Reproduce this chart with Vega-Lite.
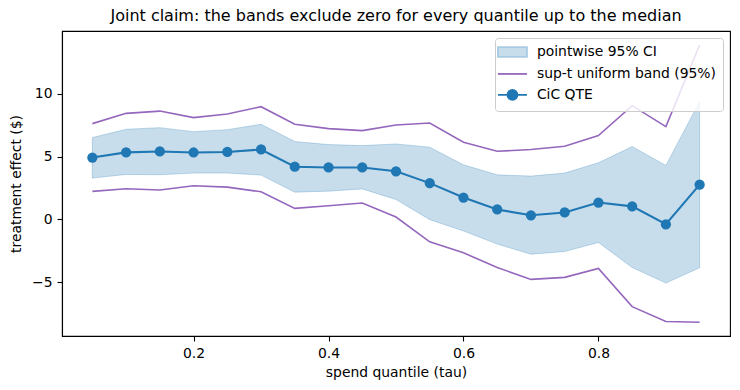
{
  "$schema": "https://vega.github.io/schema/vega-lite/v6.json",
  "width": 668,
  "height": 305,
  "autosize": {"type": "none"},
  "padding": {"left": 62, "top": 31, "right": 10, "bottom": 54},
  "title": {
    "text": "Joint claim: the bands exclude zero for every quantile up to the median",
    "fontSize": 16,
    "fontWeight": "normal",
    "font": "DejaVu Sans",
    "color": "black",
    "offset": 7
  },
  "config": {
    "font": "DejaVu Sans",
    "view": {"stroke": "black", "strokeWidth": 1.1},
    "axis": {
      "grid": false,
      "domainColor": "black",
      "domainWidth": 1.1,
      "tickColor": "black",
      "tickWidth": 1.1,
      "tickSize": 5,
      "labelColor": "black",
      "labelFontSize": 13.9,
      "labelPadding": 5,
      "titleColor": "black",
      "titleFontSize": 13.9,
      "titleFontWeight": "normal"
    },
    "legend": {
      "title": null,
      "orient": "top-right",
      "offset": 7,
      "padding": 7,
      "rowPadding": 5,
      "strokeColor": "#cccccc",
      "fillColor": "rgba(255,255,255,0.8)",
      "cornerRadius": 3,
      "symbolSize": 100,
      "symbolStrokeWidth": 1.8,
      "symbolOpacity": 1,
      "labelFontSize": 13.9,
      "labelColor": "black",
      "labelLimit": 400,
      "labelOffset": 21
    }
  },
  "data": {
    "values": [
      {"tau": 0.05, "qte": 4.92, "ci_lo": 3.28, "ci_hi": 6.51, "ut_lo": 2.22, "ut_hi": 7.62},
      {"tau": 0.10, "qte": 5.33, "ci_lo": 3.57, "ci_hi": 7.17, "ut_lo": 2.43, "ut_hi": 8.44},
      {"tau": 0.15, "qte": 5.40, "ci_lo": 3.55, "ci_hi": 7.30, "ut_lo": 2.33, "ut_hi": 8.62},
      {"tau": 0.20, "qte": 5.32, "ci_lo": 3.68, "ci_hi": 6.98, "ut_lo": 2.67, "ut_hi": 8.10},
      {"tau": 0.25, "qte": 5.36, "ci_lo": 3.68, "ci_hi": 7.14, "ut_lo": 2.56, "ut_hi": 8.39},
      {"tau": 0.30, "qte": 5.56, "ci_lo": 3.52, "ci_hi": 7.57, "ut_lo": 2.19, "ut_hi": 8.97},
      {"tau": 0.35, "qte": 4.19, "ci_lo": 2.16, "ci_hi": 6.19, "ut_lo": 0.87, "ut_hi": 7.57},
      {"tau": 0.40, "qte": 4.13, "ci_lo": 2.24, "ci_hi": 5.95, "ut_lo": 1.08, "ut_hi": 7.22},
      {"tau": 0.45, "qte": 4.13, "ci_lo": 2.42, "ci_hi": 5.87, "ut_lo": 1.30, "ut_hi": 7.06},
      {"tau": 0.50, "qte": 3.82, "ci_lo": 1.58, "ci_hi": 6.00, "ut_lo": 0.18, "ut_hi": 7.51},
      {"tau": 0.55, "qte": 2.88, "ci_lo": -0.03, "ci_hi": 5.74, "ut_lo": -1.80, "ut_hi": 7.67},
      {"tau": 0.60, "qte": 1.73, "ci_lo": -0.93, "ci_hi": 4.34, "ut_lo": -2.67, "ut_hi": 6.14},
      {"tau": 0.65, "qte": 0.78, "ci_lo": -1.98, "ci_hi": 3.54, "ut_lo": -3.84, "ut_hi": 5.42},
      {"tau": 0.70, "qte": 0.32, "ci_lo": -2.78, "ci_hi": 3.44, "ut_lo": -4.79, "ut_hi": 5.56},
      {"tau": 0.75, "qte": 0.54, "ci_lo": -2.57, "ci_hi": 3.68, "ut_lo": -4.63, "ut_hi": 5.82},
      {"tau": 0.80, "qte": 1.33, "ci_lo": -1.85, "ci_hi": 4.50, "ut_lo": -3.92, "ut_hi": 6.67},
      {"tau": 0.85, "qte": 1.03, "ci_lo": -3.84, "ci_hi": 5.79, "ut_lo": -6.96, "ut_hi": 9.05},
      {"tau": 0.90, "qte": -0.40, "ci_lo": -5.08, "ci_hi": 4.29, "ut_lo": -8.15, "ut_hi": 7.38},
      {"tau": 0.95, "qte": 2.76, "ci_lo": -3.86, "ci_hi": 9.39, "ut_lo": -8.20, "ut_hi": 13.89}
    ]
  },
  "encoding": {
    "x": {
      "field": "tau",
      "type": "quantitative",
      "scale": {"domain": [0.005, 0.995], "nice": false, "zero": false},
      "axis": {"values": [0.2, 0.4, 0.6, 0.8], "format": ".1f", "title": "spend quantile (tau)", "titlePadding": 6}
    }
  },
  "layer": [
    {
      "mark": {"type": "area", "color": "#1f77b4", "fillOpacity": 0.25, "stroke": "#1f77b4", "strokeOpacity": 0.25, "strokeWidth": 1},
      "encoding": {
        "y": {
          "field": "ci_lo",
          "type": "quantitative",
          "scale": {"domain": [-9.3, 15.0], "nice": false, "zero": false},
          "axis": {
            "values": [-5, 0, 5, 10],
            "title": "treatment effect ($)",
            "titlePadding": 8,
            "labelExpr": "replace(datum.label, '-', '\u2212')"
          }
        },
        "y2": {"field": "ci_hi"}
      }
    },
    {
      "mark": {"type": "rule", "color": "#808080", "strokeWidth": 1},
      "encoding": {"y": {"datum": 0}}
    },
    {
      "transform": [{"fold": ["ut_lo", "ut_hi"], "as": ["bound", "value"]}],
      "mark": {"type": "line", "strokeWidth": 1.6, "color": "#9467bd"},
      "encoding": {
        "y": {"field": "value", "type": "quantitative"},
        "detail": {"field": "bound"}
      }
    },
    {
      "mark": {"type": "line", "strokeWidth": 2.1, "color": "#1f77b4", "point": {"filled": true, "size": 105, "opacity": 1, "color": "#1f77b4"}},
      "encoding": {
        "y": {"field": "qte", "type": "quantitative"}
      }
    },
    {
      "description": "Key layer: holds no rows, only drives the legend's colours and glyphs.",
      "transform": [{"filter": "false"}],
      "mark": {"type": "point", "filled": true, "opacity": 1},
      "encoding": {
        "y": {"field": "qte", "type": "quantitative"},
        "fill": {
          "datum": "CiC QTE",
          "scale": {
            "domain": ["pointwise 95% CI", "sup-t uniform band (95%)", "CiC QTE"],
            "range": ["#c7ddec", "#9467bd", "#1f77b4"]
          }
        },
        "stroke": {
          "datum": "CiC QTE",
          "scale": {
            "domain": ["pointwise 95% CI", "sup-t uniform band (95%)", "CiC QTE"],
            "range": ["#a9cbe3", "#9467bd", "#1f77b4"]
          }
        },
        "shape": {
          "datum": "CiC QTE",
          "scale": {
            "domain": ["pointwise 95% CI", "sup-t uniform band (95%)", "CiC QTE"],
            "range": [
              "M-2.2,-0.97H3.6V0.97H-2.2Z",
              "M-2.2,0H3.6",
              "M-2.2,0H3.6M1.7,0A1,1 0 1,1 -0.3,0A1,1 0 1,1 1.7,0Z"
            ]
          }
        }
      }
    }
  ]
}
